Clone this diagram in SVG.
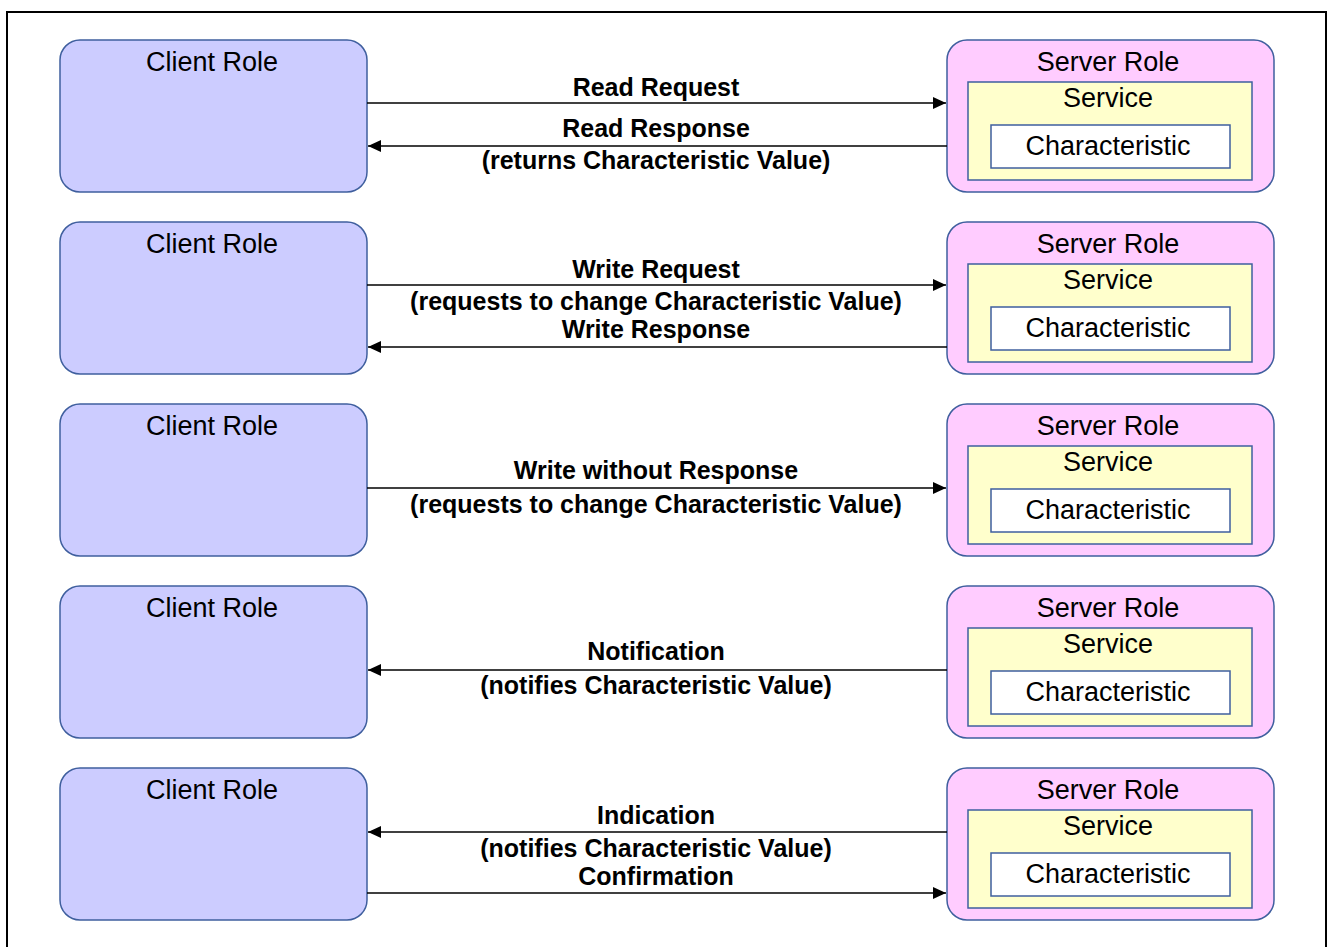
<svg xmlns="http://www.w3.org/2000/svg" width="1328" height="947" viewBox="0 0 1328 947">
  <style>
    .client { fill: #ccccff; stroke: #3f5f9e; stroke-width: 1.5; }
    .server { fill: #ffccff; stroke: #3f5f9e; stroke-width: 1.5; }
    .service { fill: #ffffcc; stroke: #3f5f9e; stroke-width: 1.5; }
    .charac { fill: #ffffff; stroke: #3f5f9e; stroke-width: 1.5; }
    .role { font-family: "Liberation Sans", Arial, sans-serif; font-size: 27px; fill: #000; text-anchor: middle; }
    .lbl { font-family: "Liberation Sans", Arial, sans-serif; font-size: 25px; font-weight: bold; fill: #000; text-anchor: middle; }
    .msg { stroke: #000; stroke-width: 1.5; fill: none; }
  </style>
  <defs>
    <marker id="arrow" viewBox="0 0 13 12" refX="13" refY="6" markerWidth="13" markerHeight="12" markerUnits="userSpaceOnUse" orient="auto">
      <path d="M0,0 L13,6 L0,12 Z" fill="#000"/>
    </marker>
    <g id="client">
      <rect class="client" x="60" y="40" width="307" height="152" rx="20" ry="20"/>
      <text class="role" x="212" y="71">Client Role</text>
    </g>
    <g id="server">
      <rect class="server" x="947" y="40" width="327" height="152" rx="20" ry="20"/>
      <text class="role" x="1108" y="71">Server Role</text>
      <rect class="service" x="968" y="82" width="284" height="98"/>
      <text class="role" x="1108" y="107">Service</text>
      <rect class="charac" x="991" y="125" width="239" height="43"/>
      <text class="role" x="1108" y="155">Characteristic</text>
    </g>
  </defs>

  <!-- outer frame -->
  <rect x="7" y="12" width="1319" height="960" fill="#fff" stroke="#000" stroke-width="2"/>

  <!-- row 1: read -->
  <g id="client1"><use href="#client"/></g>
  <g id="server1"><use href="#server"/></g>
  <!-- row 2: write -->
  <g id="client2"><use href="#client" y="182"/></g>
  <g id="server2"><use href="#server" y="182"/></g>
  <!-- row 3: write without response -->
  <g id="client3"><use href="#client" y="364"/></g>
  <g id="server3"><use href="#server" y="364"/></g>
  <!-- row 4: notification -->
  <g id="client4"><use href="#client" y="546"/></g>
  <g id="server4"><use href="#server" y="546"/></g>
  <!-- row 5: indication -->
  <g id="client5"><use href="#client" y="728"/></g>
  <g id="server5"><use href="#server" y="728"/></g>

  <g id="connectors">
    <line class="msg" x1="367" y1="103" x2="946" y2="103" marker-end="url(#arrow)"/>
    <line class="msg" x1="947" y1="146" x2="368" y2="146" marker-end="url(#arrow)"/>

    <line class="msg" x1="367" y1="285" x2="946" y2="285" marker-end="url(#arrow)"/>
    <line class="msg" x1="947" y1="347" x2="368" y2="347" marker-end="url(#arrow)"/>

    <line class="msg" x1="367" y1="488" x2="946" y2="488" marker-end="url(#arrow)"/>

    <line class="msg" x1="947" y1="670" x2="368" y2="670" marker-end="url(#arrow)"/>

    <line class="msg" x1="947" y1="832" x2="368" y2="832" marker-end="url(#arrow)"/>
    <line class="msg" x1="367" y1="893" x2="946" y2="893" marker-end="url(#arrow)"/>
  </g>

  <g id="labels">
    <text class="lbl" x="656" y="96">Read Request</text>
    <text class="lbl" x="656" y="137">Read Response</text>
    <text class="lbl" x="656" y="169">(returns Characteristic Value)</text>

    <text class="lbl" x="656" y="278">Write Request</text>
    <text class="lbl" x="656" y="310">(requests to change Characteristic Value)</text>
    <text class="lbl" x="656" y="338">Write Response</text>

    <text class="lbl" x="656" y="479">Write without Response</text>
    <text class="lbl" x="656" y="513">(requests to change Characteristic Value)</text>

    <text class="lbl" x="656" y="660">Notification</text>
    <text class="lbl" x="656" y="694">(notifies Characteristic Value)</text>

    <text class="lbl" x="656" y="824">Indication</text>
    <text class="lbl" x="656" y="857">(notifies Characteristic Value)</text>
    <text class="lbl" x="656" y="885">Confirmation</text>
  </g>
</svg>
